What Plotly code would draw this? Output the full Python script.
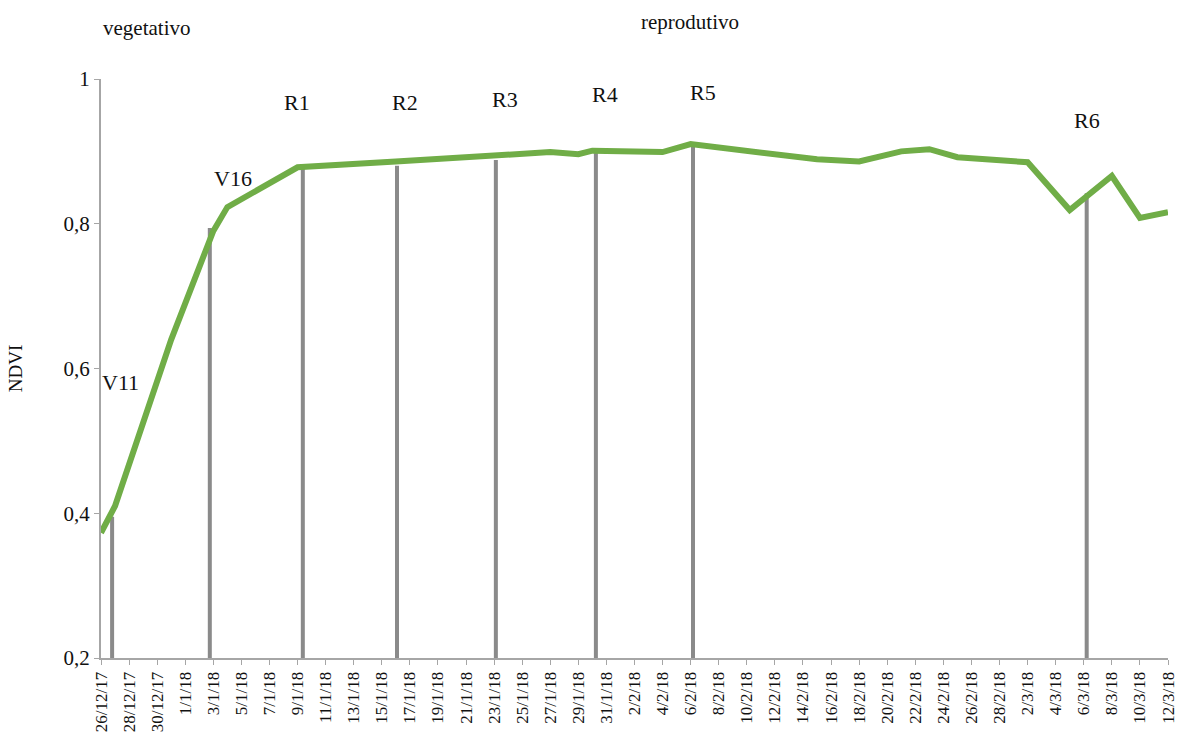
import plotly.graph_objects as go

# NDVI time series (date, value)
dates = [
    "2017-12-26", "2017-12-27", "2017-12-31", "2018-01-03", "2018-01-04",
    "2018-01-09", "2018-01-16", "2018-01-23", "2018-01-27", "2018-01-29",
    "2018-01-30", "2018-02-04", "2018-02-06", "2018-02-15", "2018-02-18",
    "2018-02-21", "2018-02-23", "2018-02-25", "2018-03-02", "2018-03-05",
    "2018-03-08", "2018-03-10", "2018-03-12",
]
ndvi = [
    0.373, 0.410, 0.640, 0.790, 0.823,
    0.878, 0.886, 0.894, 0.899, 0.896,
    0.901, 0.899, 0.910, 0.889, 0.886,
    0.900, 0.903, 0.892, 0.885, 0.819,
    0.866, 0.808, 0.816,
]

# Phenological stages: label, date of the marker line, NDVI at the marker top
stage_labels = ["V11", "V16", "R1", "R2", "R3", "R4", "R5", "R6"]
stage_dates = [
    "2017-12-26 19:00", "2018-01-02 18:00", "2018-01-09 09:00", "2018-01-16 02:00",
    "2018-01-23 03:00", "2018-01-30 06:00", "2018-02-06 04:00", "2018-03-06 05:00",
]
stage_tops = [0.395, 0.794, 0.878, 0.880, 0.888, 0.899, 0.907, 0.842]

# Axis ticks
x_tick_dates = [
    "2017-12-26", "2017-12-28", "2017-12-30", "2018-01-01", "2018-01-03",
    "2018-01-05", "2018-01-07", "2018-01-09", "2018-01-11", "2018-01-13",
    "2018-01-15", "2018-01-17", "2018-01-19", "2018-01-21", "2018-01-23",
    "2018-01-25", "2018-01-27", "2018-01-29", "2018-01-31", "2018-02-02",
    "2018-02-04", "2018-02-06", "2018-02-08", "2018-02-10", "2018-02-12",
    "2018-02-14", "2018-02-16", "2018-02-18", "2018-02-20", "2018-02-22",
    "2018-02-24", "2018-02-26", "2018-02-28", "2018-03-02", "2018-03-04",
    "2018-03-06", "2018-03-08", "2018-03-10", "2018-03-12",
]
x_tick_labels = [
    "26/12/17", "28/12/17", "30/12/17", "1/1/18", "3/1/18",
    "5/1/18", "7/1/18", "9/1/18", "11/1/18", "13/1/18",
    "15/1/18", "17/1/18", "19/1/18", "21/1/18", "23/1/18",
    "25/1/18", "27/1/18", "29/1/18", "31/1/18", "2/2/18",
    "4/2/18", "6/2/18", "8/2/18", "10/2/18", "12/2/18",
    "14/2/18", "16/2/18", "18/2/18", "20/2/18", "22/2/18",
    "24/2/18", "26/2/18", "28/2/18", "2/3/18", "4/3/18",
    "6/3/18", "8/3/18", "10/3/18", "12/3/18",
]
y_tick_vals = [0.2, 0.4, 0.6, 0.8, 1.0]
y_tick_labels = ["0,2", "0,4", "0,6", "0,8", "1"]

SERIF = "Liberation Serif, Times New Roman, serif"
AXIS_GREY = "#a6a6a6"
STAGE_GREY = "#8a8a8a"

fig = go.Figure()

# Stage marker lines (drawn beneath the NDVI curve)
for d, top in zip(stage_dates, stage_tops):
    fig.add_trace(go.Scatter(
        x=[d, d], y=[0.2, top], mode="lines",
        line=dict(color=STAGE_GREY, width=4),
        hoverinfo="skip", showlegend=False, cliponaxis=False,
    ))

fig.add_trace(go.Scatter(
    x=dates, y=ndvi, mode="lines",
    line=dict(color="#70ad47", width=6),
    showlegend=False, cliponaxis=False, name="NDVI",
))

# Stage labels (paper-x positions, data-y positions)
label_pos = {
    "V11": (0.018, 0.580), "V16": (0.124, 0.863), "R1": (0.184, 0.967),
    "R2": (0.285, 0.968), "R3": (0.379, 0.971), "R4": (0.472, 0.979),
    "R5": (0.564, 0.982), "R6": (0.924, 0.943),
}
for lab in stage_labels:
    px, py = label_pos[lab]
    fig.add_annotation(
        x=px, xref="paper", y=py, yref="y", text=lab, showarrow=False,
        font=dict(family=SERIF, size=22, color="#111111"),
        xanchor="center", yanchor="middle",
    )

# Period headings
fig.add_annotation(x=0.043, xref="paper", y=1.088, yref="paper", text="vegetativo",
                   showarrow=False, font=dict(family=SERIF, size=21, color="#111111"),
                   xanchor="center", yanchor="middle")
fig.add_annotation(x=0.552, xref="paper", y=1.098, yref="paper", text="reprodutivo",
                   showarrow=False, font=dict(family=SERIF, size=21, color="#111111"),
                   xanchor="center", yanchor="middle")

fig.update_layout(
    width=1178, height=738,
    margin=dict(l=101, r=10, t=79, b=80, autoexpand=False),
    paper_bgcolor="white", plot_bgcolor="white",
    font=dict(family=SERIF, color="#111111"),
    xaxis=dict(
        type="date", automargin=False,
        range=["2017-12-26", "2018-03-12"],
        tickmode="array", tickvals=x_tick_dates, ticktext=x_tick_labels,
        tickangle=-90, tickfont=dict(family=SERIF, size=17, color="#111111"),
        showgrid=False, zeroline=False,
        showline=True, linecolor=AXIS_GREY, linewidth=2,
        ticks="outside", ticklen=5, tickcolor=AXIS_GREY, tickwidth=1,
    ),
    yaxis=dict(
        range=[0.2, 1.0], automargin=False,
        tickmode="array", tickvals=y_tick_vals, ticktext=y_tick_labels,
        tickfont=dict(family=SERIF, size=21, color="#111111"),
        showgrid=False, zeroline=False,
        showline=True, linecolor=AXIS_GREY, linewidth=2,
        ticks="outside", ticklen=5, tickcolor=AXIS_GREY, tickwidth=1,
        title=dict(text="NDVI", font=dict(family=SERIF, size=19, color="#111111"), standoff=36),
    ),
)

fig.write_html("out.html")
